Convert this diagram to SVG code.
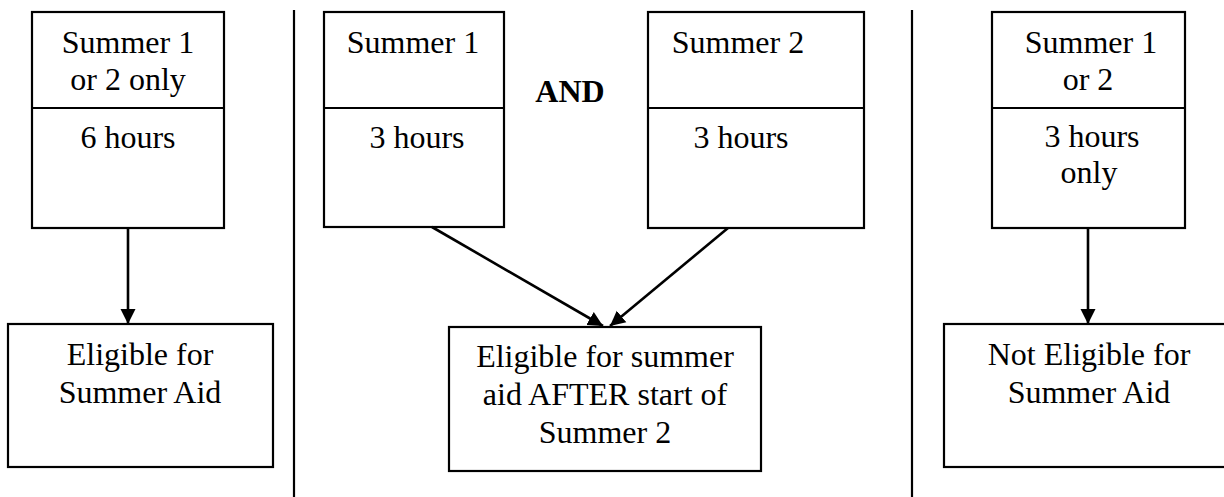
<svg xmlns="http://www.w3.org/2000/svg" width="1224" height="497" viewBox="0 0 1224 497">
<style>
.box{fill:#fff;stroke:#000;stroke-width:2.2}
.ln{stroke:#000;stroke-width:2.2;fill:none}
.cn{stroke:#000;stroke-width:2.6;fill:none}
.t{font-family:'Liberation Serif','Times New Roman',Times,'Nimbus Roman','DejaVu Serif',serif;font-size:32px;fill:#000;text-anchor:middle}
.b{font-weight:bold}
</style>
<defs>
<marker id="ah" viewBox="0 0 10 10" refX="10" refY="5" markerWidth="15" markerHeight="16" markerUnits="userSpaceOnUse" orient="auto">
<path d="M0,0 L10,5 L0,10 z" fill="#000"/>
</marker>
</defs>
<rect width="1224" height="497" fill="#fff"/>
<g id="dividers">
<line class="ln" x1="294" y1="10" x2="294" y2="497"/>
<line class="ln" x1="912" y1="10" x2="912" y2="497"/>
</g>
<g id="n1">
<rect class="box" x="32" y="12" width="192" height="216"/>
<line class="ln" x1="32" y1="108" x2="224" y2="108"/>
<text class="t" x="128" y="53">Summer 1</text>
<text class="t" x="128" y="90">or 2 only</text>
<text class="t" x="128" y="148">6 hours</text>
</g>
<g id="n2">
<rect class="box" x="8" y="324" width="265" height="143"/>
<text class="t" x="140" y="365">Eligible for</text>
<text class="t" x="140" y="403">Summer Aid</text>
</g>
<g id="n3">
<rect class="box" x="324" y="12" width="180" height="215"/>
<line class="ln" x1="324" y1="108" x2="504" y2="108"/>
<text class="t" x="413" y="53">Summer 1</text>
<text class="t" x="417" y="148">3 hours</text>
</g>
<g id="and">
<text class="t b" x="570" y="102">AND</text>
</g>
<g id="n4">
<rect class="box" x="648" y="12" width="216" height="216"/>
<line class="ln" x1="648" y1="108" x2="864" y2="108"/>
<text class="t" x="738" y="53">Summer 2</text>
<text class="t" x="741" y="148">3 hours</text>
</g>
<g id="n5">
<rect class="box" x="449" y="327" width="312" height="144"/>
<text class="t" x="605" y="367">Eligible for summer</text>
<text class="t" x="605" y="405">aid AFTER start of</text>
<text class="t" x="605" y="443">Summer 2</text>
</g>
<g id="n6">
<rect class="box" x="992" y="12" width="193" height="216"/>
<line class="ln" x1="992" y1="108" x2="1185" y2="108"/>
<text class="t" x="1091" y="53">Summer 1</text>
<text class="t" x="1088" y="90">or 2</text>
<text class="t" x="1092" y="147">3 hours</text>
<text class="t" x="1089" y="183">only</text>
</g>
<g id="n7">
<rect class="box" x="944" y="324" width="292" height="143"/>
<text class="t" x="1089" y="365">Not Eligible for</text>
<text class="t" x="1089" y="403">Summer Aid</text>
</g>
<g id="connectors">
<line class="cn" x1="128" y1="228" x2="128" y2="324" marker-end="url(#ah)"/>
<line class="cn" x1="432" y1="227" x2="603" y2="326" marker-end="url(#ah)"/>
<line class="cn" x1="728" y1="228" x2="610" y2="326" marker-end="url(#ah)"/>
<line class="cn" x1="1088" y1="228" x2="1088" y2="324" marker-end="url(#ah)"/>
</g>
</svg>
